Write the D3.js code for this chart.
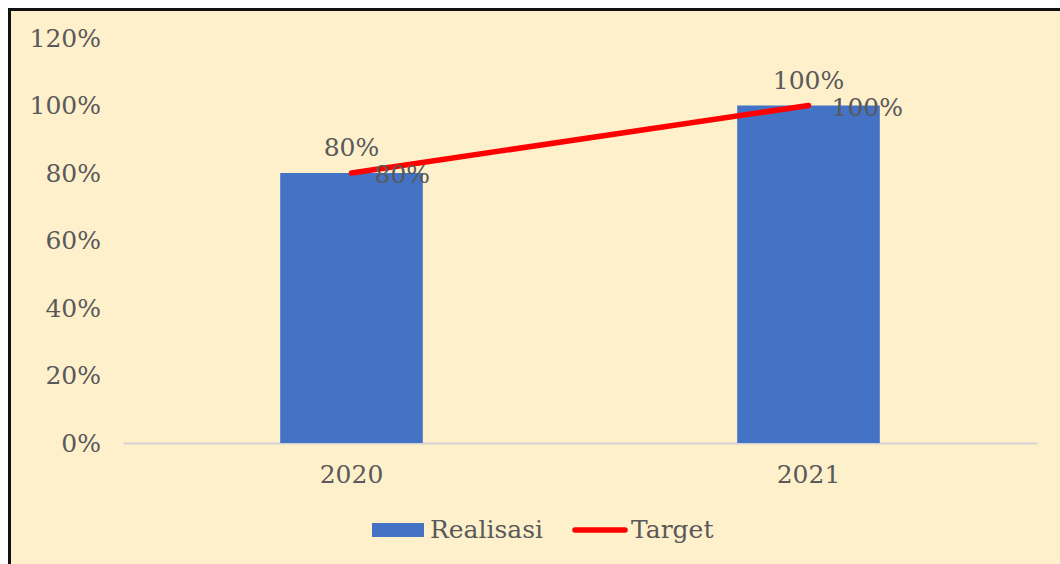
<!DOCTYPE html>
<html lang="en">
<head>
    <meta charset="utf-8">
    <script src="https://d3js.org/d3.v7.min.js"></script>
    <style type="text/css">
        body {
            margin: 0;
            background: white;
            overflow: hidden;
        }
        text {
            font-family: "DejaVu Serif", serif;
            fill: #595959;
        }
    </style>
</head>
<body>
<svg id="chart"></svg>
<script type="text/javascript">
    var years = ["2020", "2021"];
    var realisasi = [0.80, 1.00];
    var target = [0.80, 1.00];
    var yTicks = [0, 0.2, 0.4, 0.6, 0.8, 1.0, 1.2];

    var width = 1060;
    var height = 564;
    var margin = {left: 123, right: 23, top: 38, bottom: 121};
    var fontSize = "25px";

    var svg = d3.select("#chart")
        .attr("width", width)
        .attr("height", height);

    // chart area background + frame
    svg.append("rect")
        .attr("x", 9.5)
        .attr("y", 9.5)
        .attr("width", width)
        .attr("height", height)
        .attr("fill", "#FFF0CC")
        .attr("stroke", "#111")
        .attr("stroke-width", 3);

    var x = d3.scaleBand()
        .domain(years)
        .range([margin.left, width - margin.right])
        .paddingInner(0.688)
        .paddingOuter(0.344);

    var y = d3.scaleLinear()
        .domain([0, 1.2])
        .range([height - margin.bottom, margin.top]);

    var fmt = d3.format(".0%");

    // y axis labels (no line)
    var yAxis = svg.append("g")
        .attr("transform", "translate(" + margin.left + ",0)")
        .call(d3.axisLeft(y).tickValues(yTicks).tickFormat(fmt).tickSize(0).tickPadding(22));
    yAxis.select(".domain").remove();
    yAxis.selectAll("text")
        .style("font-size", fontSize)
        .style("font-family", "'DejaVu Serif', serif")
        .attr("fill", "#595959");

    // x axis
    var xAxis = svg.append("g")
        .attr("transform", "translate(0," + y(0) + ")")
        .call(d3.axisBottom(x).tickSize(0).tickPadding(22).tickSizeOuter(0));
    xAxis.select(".domain")
        .attr("stroke", "#D4D4D4")
        .attr("stroke-width", 2);
    xAxis.selectAll("text")
        .style("font-size", fontSize)
        .style("font-family", "'DejaVu Serif', serif")
        .attr("fill", "#595959");

    // bars
    svg.selectAll(".bar")
        .data(realisasi)
        .join("rect")
        .attr("class", "bar")
        .attr("x", function(d, i) { return x(years[i]); })
        .attr("y", function(d) { return y(d); })
        .attr("width", x.bandwidth())
        .attr("height", function(d) { return y(0) - y(d); })
        .attr("fill", "#4472C4");

    // target line
    var line = d3.line()
        .x(function(d, i) { return x(years[i]) + x.bandwidth() / 2; })
        .y(function(d) { return y(d); });

    svg.append("path")
        .datum(target)
        .attr("d", line)
        .attr("fill", "none")
        .attr("stroke", "#FF0000")
        .attr("stroke-width", 5.5)
        .attr("stroke-linecap", "round");

    // bar labels
    svg.selectAll(".bar-label")
        .data(realisasi)
        .join("text")
        .attr("class", "bar-label")
        .attr("x", function(d, i) { return x(years[i]) + x.bandwidth() / 2; })
        .attr("y", function(d) { return y(d) - 17; })
        .attr("text-anchor", "middle")
        .style("font-size", fontSize)
        .text(function(d) { return fmt(d); });

    // line labels (right of point)
    svg.selectAll(".line-label")
        .data(target)
        .join("text")
        .attr("class", "line-label")
        .attr("x", function(d, i) { return x(years[i]) + x.bandwidth() / 2 + 23; })
        .attr("y", function(d) { return y(d) + 10; })
        .style("font-size", fontSize)
        .text(function(d) { return fmt(d); });

    // legend
    var legend = svg.append("g");
    legend.append("rect")
        .attr("x", 372)
        .attr("y", 523)
        .attr("width", 52)
        .attr("height", 14)
        .attr("fill", "#4472C4");
    legend.append("text")
        .attr("x", 430)
        .attr("y", 538)
        .style("font-size", fontSize)
        .text("Realisasi");
    legend.append("line")
        .attr("x1", 575)
        .attr("x2", 625)
        .attr("y1", 530)
        .attr("y2", 530)
        .attr("stroke", "#FF0000")
        .attr("stroke-width", 5.5)
        .attr("stroke-linecap", "round");
    legend.append("text")
        .attr("x", 631)
        .attr("y", 538)
        .style("font-size", fontSize)
        .text("Target");
</script>
</body>
</html>
